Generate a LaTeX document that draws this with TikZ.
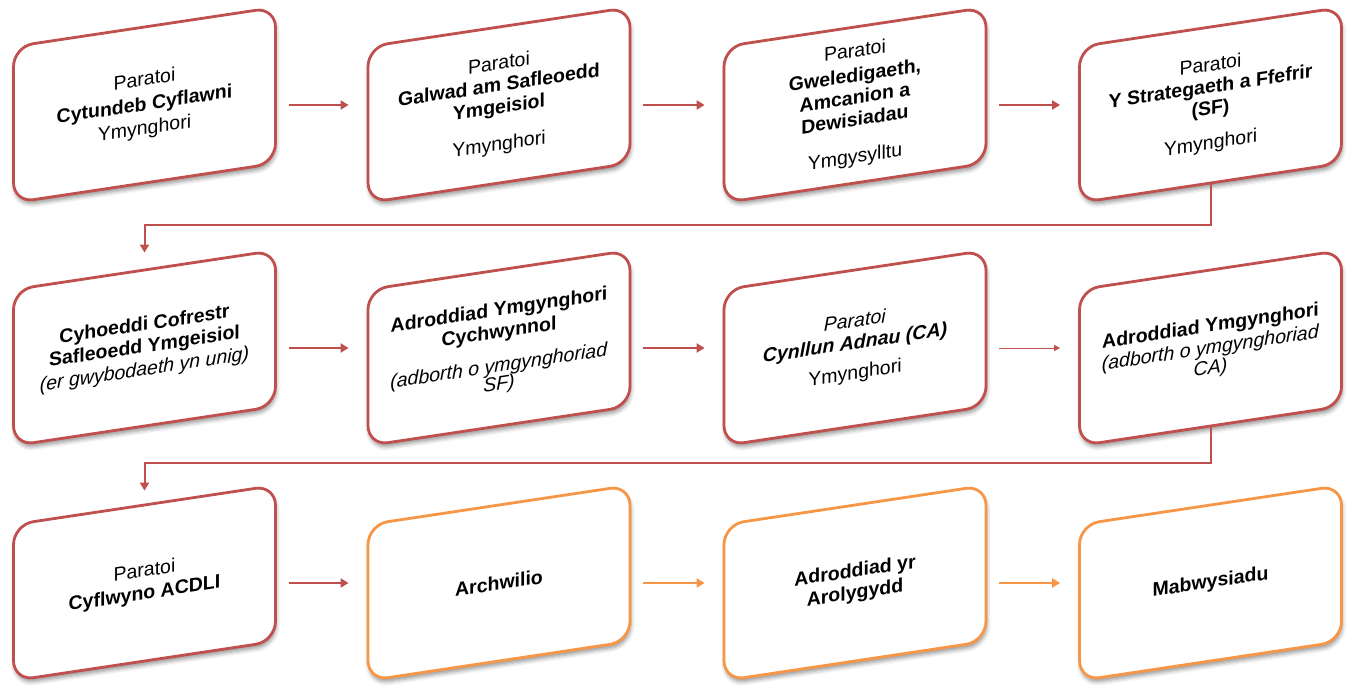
\documentclass[tikz,border=0pt]{standalone}
\usepackage{fontspec}
\setmainfont{Liberation Sans}
\usetikzlibrary{arrows.meta,shadows.blur}
\definecolor{planred}{HTML}{C0504D}
\definecolor{planorange}{HTML}{F79646}

\begin{document}
\begin{tikzpicture}[x=1pt,y=-1pt,
    stage/.style={draw=planred, line width=2.8pt, fill=white, rounded corners=20pt,
      minimum width=262pt, minimum height=156pt, inner sep=0pt, yslant=0.15,
      align=center, font=\fontsize{19.5}{22}\selectfont,
      blur shadow={shadow xshift=1pt, shadow yshift=-4pt, shadow blur radius=4pt, shadow opacity=40}},
    examstage/.style={stage, draw=planorange},
    flow/.style={planred, line width=2pt, shorten <=12pt, shorten >=18pt,
      -{Triangle[length=8pt,width=9pt]}},
    examflow/.style={flow, planorange}]

    \useasboundingbox (0,0) rectangle (1351,690);

    % first row
    \node[stage] (r1a) at (144.5,105) {Paratoi\\[3pt]\textbf{Cytundeb Cyflawni}\\[2pt]Ymynghori};
    \node[stage] (r1b) at (499,105) {Paratoi\\\textbf{Galwad am Safleoedd}\\\textbf{Ymgeisiol}\\[15pt]Ymynghori};
    \node[stage] (r1c) at (855,105) {Paratoi\\[3pt]\textbf{Gweledigaeth,}\\\textbf{Amcanion a}\\\textbf{Dewisiadau}\\[15pt]Ymgysylltu};
    \node[stage] (r1d) at (1210.5,105) {Paratoi\\\textbf{Y Strategaeth a Ffefrir}\\\textbf{(SF)}\\[12pt]Ymynghori};

    \draw[flow] (r1a.center -| r1a.east) -- (r1b.center -| r1b.west);
    \draw[flow] (r1b.center -| r1b.east) -- (r1c.center -| r1c.west);
    \draw[flow] (r1c.center -| r1c.east) -- (r1d.center -| r1d.west);

    % second row
    \node[stage] (r2a) at (144.5,348) {\textbf{Cyhoeddi Cofrestr}\\\textbf{Safleoedd Ymgeisiol}\\[1pt]\textit{(er gwybodaeth yn unig)}};
    \node[stage] (r2b) at (499,348) {\textbf{Adroddiad Ymgynghori}\\\textbf{Cychwynnol}\\[12pt]\textit{(adborth o ymgynghoriad}\\[-4pt]\textit{SF)}};
    \node[stage] (r2c) at (855,348) {\textit{Paratoi}\\\textbf{\textit{Cynllun Adnau (CA)}}\\[8pt]Ymynghori};
    \node[stage] (r2d) at (1210.5,348) {\textbf{Adroddiad Ymgynghori}\\\textit{(adborth o ymgynghoriad}\\[-2pt]\textit{CA)}};

    \coordinate (turn1) at (144.5,225);
    \draw[flow, shorten <=0pt, shorten >=16pt] (r1d.south) |- (turn1) -- (r2a.north);

    \draw[flow] (r2a.center -| r2a.east) -- (r2b.center -| r2b.west);
    \draw[flow] (r2b.center -| r2b.east) -- (r2c.center -| r2c.west);
    \draw[flow, line width=1pt, -{Triangle[length=6pt,width=6pt]}] (r2c.center -| r2c.east) -- (r2d.center -| r2d.west);

    % third row
    \node[stage] (r3a) at (144.5,583) {Paratoi\\[1pt]\textbf{Cyflwyno ACDLI}};
    \node[examstage] (r3b) at (499,583) {\textbf{Archwilio}};
    \node[examstage] (r3c) at (855,583) {\textbf{Adroddiad yr}\\\textbf{Arolygydd}};
    \node[examstage] (r3d) at (1210.5,583) {\textbf{Mabwysiadu}};

    \coordinate (turn2) at (144.5,463);
    \draw[flow, shorten <=0pt, shorten >=13pt] (r2d.south) |- (turn2) -- (r3a.north);

    \draw[flow] (r3a.center -| r3a.east) -- (r3b.center -| r3b.west);
    \draw[examflow] (r3b.center -| r3b.east) -- (r3c.center -| r3c.west);
    \draw[examflow] (r3c.center -| r3c.east) -- (r3d.center -| r3d.west);

\end{tikzpicture}
\end{document}
